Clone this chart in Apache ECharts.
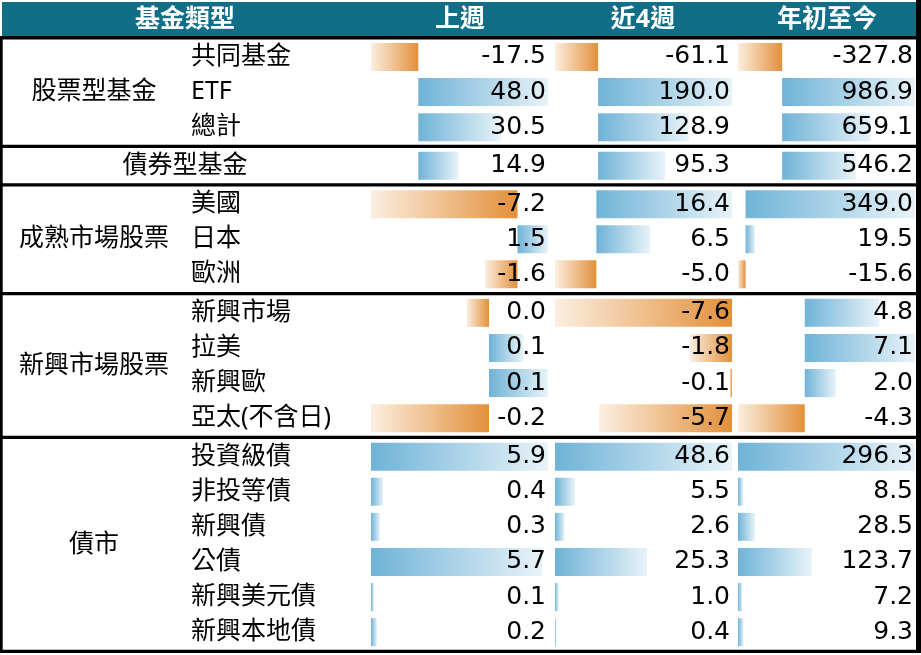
<!DOCTYPE html>
<html>
<head>
<meta charset="utf-8">
<script src="https://cdn.jsdelivr.net/npm/echarts@6/dist/echarts.min.js"></script>
<style>
  html, body { margin: 0; padding: 0; background: #fff; }
  #chart { width: 921px; height: 655px; }
</style>
</head>
<body>
<div id="chart"></div>
<script>
// 表格資料
var headers = ['基金類型', '上週', '近4週', '年初至今'];
var sectionTitles = ['股票型基金', '債券型基金', '成熟市場股票', '新興市場股票', '債市'];
var sectionRows = [
  ['共同基金', 'ETF', '總計'],
  ['債券型基金'],
  ['美國', '日本', '歐洲'],
  ['新興市場', '拉美', '新興歐', '亞太(不含日)'],
  ['投資級債', '非投等債', '新興債', '公債', '新興美元債', '新興本地債']
];
// 哪幾個區塊共用同一個資料橫條比例
var scaleGroup = [0, 0, 1, 2, 3];
var lastWeek = [
  [-17.5, 48.0, 30.5],
  [14.9],
  [-7.2, 1.5, -1.6],
  [-0.045, 0.07, 0.12, -0.24],
  [5.9, 0.4, 0.3, 5.7, 0.1, 0.2]
];
var last4Weeks = [
  [-61.1, 190.0, 128.9],
  [95.3],
  [16.4, 6.5, -5.0],
  [-7.6, -1.8, -0.1, -5.7],
  [48.6, 5.5, 2.6, 25.3, 1.0, 0.4]
];
var yearToDate = [
  [-327.8, 986.9, 659.1],
  [546.2],
  [349.0, 19.5, -15.6],
  [4.8, 7.1, 2.0, -4.3],
  [296.3, 8.5, 28.5, 123.7, 7.2, 9.3]
];
var columnData = [lastWeek, last4Weeks, yearToDate];

// 版面
var W = 921;
var headerTop = 2, headerBottom = 36;
var lineW = 3.4;
var rowH = 35.1;
var cellLeft = [371, 555, 738];
var cellRight = [548, 732, 915];
var subLabelX = 191;
var titleCenter = 94;
var font = '"Noto Sans", "Noto Sans CJK TC", sans-serif';
var numFont = '"DejaVu Sans", sans-serif';
var fontSize = 25;
var headerColor = '#116E87';
var blue = ['#6FB3D7', '#E8F3F9'];
var orange = ['#FBEEE0', '#E2903A'];

function fmt(v) {
  var s = v.toFixed(1);
  return s === '-0.0' ? '0.0' : s;
}

var MyEcharts = echarts.init(document.getElementById('chart'));

// 每個區塊的上緣
var sectionTop = [];
var y = headerBottom + lineW;
sectionRows.forEach(function (rows) {
  sectionTop.push(y);
  y += rows.length * rowH + lineW;
});
var tableBottom = y;

// 每個比例組在各欄的 min/max
function groupRange(c, g) {
  var mn = 0, mx = 0;
  sectionRows.forEach(function (rows, s) {
    if (scaleGroup[s] !== g) return;
    columnData[c][s].forEach(function (v) {
      mn = Math.min(mn, v);
      mx = Math.max(mx, v);
    });
  });
  return [mn, mx];
}

var grid = [], xAxis = [], yAxis = [], series = [];
sectionRows.forEach(function (rows, s) {
  var single = rows.length === 1;
  for (var c = 0; c < 3; c++) {
    var g = grid.length;
    var vals = columnData[c][s];
    var range = groupRange(c, scaleGroup[s]);
    grid.push({
      left: cellLeft[c],
      width: cellRight[c] - cellLeft[c],
      top: sectionTop[s],
      height: rows.length * rowH,
      outerBoundsMode: 'none',
      show: false
    });
    xAxis.push({
      gridIndex: g,
      type: 'value',
      min: range[0],
      max: range[1],
      show: false
    });
    yAxis.push({
      gridIndex: g,
      type: 'category',
      inverse: true,
      position: 'left',
      data: rows,
      axisLine: { show: false },
      axisTick: { show: false },
      splitLine: { show: false },
      axisLabel: {
        show: c === 0 && !single,
        align: 'left',
        margin: cellLeft[0] - subLabelX,
        color: '#000',
        fontSize: fontSize,
        fontFamily: font
      }
    });
    // 數值標籤放在格子右側，疊在橫條上方
    yAxis.push({
      gridIndex: g,
      type: 'category',
      inverse: true,
      position: 'right',
      z: 10,
      data: vals.map(fmt),
      axisLine: { show: false },
      axisTick: { show: false },
      splitLine: { show: false },
      axisLabel: {
        show: true,
        inside: true,
        margin: 2,
        color: '#000',
        fontSize: fontSize,
        fontFamily: numFont
      }
    });
    series.push({
      type: 'bar',
      xAxisIndex: g,
      yAxisIndex: g * 2,
      barWidth: 28,
      silent: true,
      z: 1,
      data: vals.map(function (v) {
        var stops = v >= 0 ? blue : orange;
        return {
          value: v,
          itemStyle: {
            color: new echarts.graphic.LinearGradient(0, 0, 1, 0, [
              { offset: 0, color: stops[0] },
              { offset: 1, color: stops[1] }
            ])
          }
        };
      })
    });
  }
});

// 表頭、框線、區塊標題
var graphic = [];
graphic.push({
  type: 'rect', z: 0,
  shape: { x: 2, y: headerTop, width: 914, height: headerBottom - headerTop },
  style: { fill: headerColor }
});
var headerX = [185, 460, 643, 827];
headers.forEach(function (h, i) {
  graphic.push({
    type: 'text', z: 10,
    x: headerX[i], y: (headerTop + headerBottom) / 2 + 1,
    style: {
      text: h, fill: '#fff', fontSize: fontSize, fontWeight: 'bold',
      fontFamily: font, align: 'center', verticalAlign: 'middle'
    }
  });
});
// 水平粗線
graphic.push({
  type: 'rect', z: 5,
  shape: { x: 0, y: headerBottom, width: W, height: lineW },
  style: { fill: '#000' }
});
sectionRows.forEach(function (rows, s) {
  graphic.push({
    type: 'rect', z: 5,
    shape: { x: 0, y: sectionTop[s] + rows.length * rowH, width: W, height: lineW },
    style: { fill: '#000' }
  });
  var single = rows.length === 1;
  graphic.push({
    type: 'text', z: 10,
    x: single ? 185 : titleCenter,
    y: sectionTop[s] + rows.length * rowH / 2,
    style: {
      text: sectionTitles[s], fill: '#000', fontSize: fontSize,
      fontFamily: font, align: 'center', verticalAlign: 'middle'
    }
  });
});
// 左右邊框
graphic.push({
  type: 'rect', z: 5,
  shape: { x: 0, y: headerBottom, width: 2.7, height: tableBottom - headerBottom },
  style: { fill: '#000' }
});
graphic.push({
  type: 'rect', z: 5,
  shape: { x: 916, y: 0, width: 5, height: tableBottom },
  style: { fill: '#000' }
});

var option = {
  animation: false,
  backgroundColor: '#fff',
  grid: grid,
  xAxis: xAxis,
  yAxis: yAxis,
  series: series,
  graphic: graphic
};
MyEcharts.setOption(option);
window.addEventListener('resize', function () {
  MyEcharts.resize();
});
</script>
</body>
</html>
